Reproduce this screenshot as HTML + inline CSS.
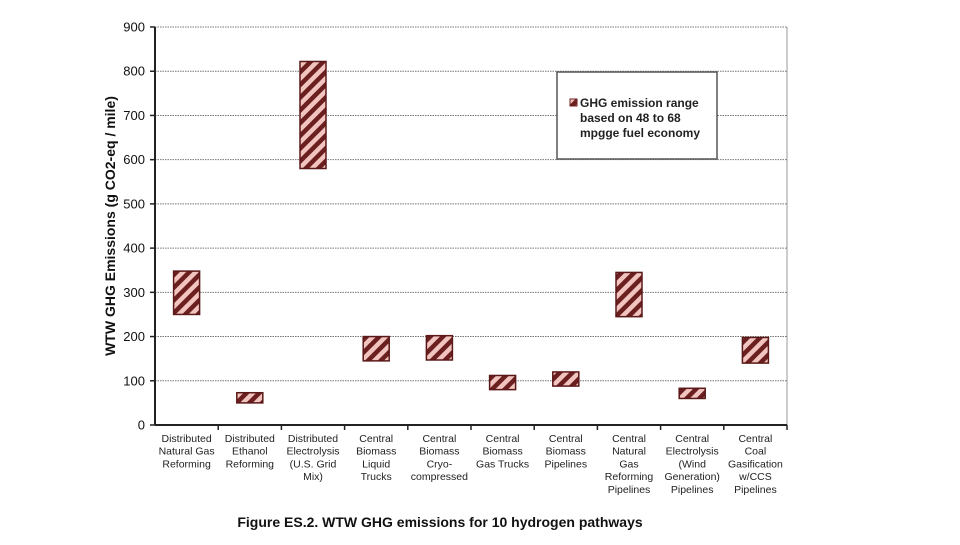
<!DOCTYPE html>
<html><head><meta charset="utf-8"><style>
body{margin:0;background:#fff;}
svg text{font-family:"Liberation Sans",Arial,sans-serif;}
</style></head><body>
<svg width="960" height="540" viewBox="0 0 960 540">
<defs>
<pattern id="hatch" patternUnits="userSpaceOnUse" width="9" height="9" patternTransform="rotate(45)">
<rect width="9" height="9" fill="#f1c4bf"/>
<rect x="0" y="0" width="4.5" height="9" fill="#6b1f1f"/>
</pattern>
</defs>
<g id="grid"></g>
<g id="bars"></g>
<g id="axes"></g>
<text x="115" y="226" transform="rotate(-90 115 226)" text-anchor="middle" font-size="14" font-weight="bold" fill="#111">WTW GHG Emissions (g CO2-eq / mile)</text>
<text x="440" y="527" text-anchor="middle" font-size="14" font-weight="bold" fill="#111">Figure ES.2. WTW GHG emissions for 10 hydrogen pathways</text>
<g>
<rect x="557" y="72" width="160" height="87" fill="#fff" stroke="#555" stroke-width="1.5"/>
<rect x="570" y="99" width="7" height="7" fill="url(#hatch)" stroke="#6b1f1f"/>
<text x="580" y="107" font-size="12" font-weight="bold" fill="#222">GHG emission range</text>
<text x="580" y="122" font-size="12" font-weight="bold" fill="#222">based on 48 to 68</text>
<text x="580" y="137" font-size="12" font-weight="bold" fill="#222">mpgge fuel economy</text>
</g>
</svg>
<script>
const categories=[["Distributed","Natural Gas","Reforming"],["Distributed","Ethanol","Reforming"],["Distributed","Electrolysis","(U.S. Grid","Mix)"],["Central","Biomass","Liquid","Trucks"],["Central","Biomass","Cryo-","compressed"],["Central","Biomass","Gas Trucks"],["Central","Biomass","Pipelines"],["Central","Natural","Gas","Reforming","Pipelines"],["Central","Electrolysis","(Wind","Generation)","Pipelines"],["Central","Coal","Gasification","w/CCS","Pipelines"]];
const lowValues=[250,50,580,145,147,80,88,245,60,140];
const highValues=[348,73,822,200,202,112,120,345,83,198];
const yTicks=[0,100,200,300,400,500,600,700,800,900];
const NS="http://www.w3.org/2000/svg";
const L=155,R=787,T=27,B=425,yMax=900;
const y=v=>B-(v/yMax)*(B-T);
const bw=(R-L)/categories.length;
const x=i=>L+bw*(i+0.5);
function mk(tag,attrs,parent){const e=document.createElementNS(NS,tag);for(const k in attrs)e.setAttribute(k,attrs[k]);parent.appendChild(e);return e;}
const grid=document.getElementById('grid'),bars=document.getElementById('bars'),axes=document.getElementById('axes');
yTicks.forEach(t=>{
 if(t>0){const g=mk('line',{x1:L,x2:R,y1:y(t),y2:y(t),stroke:'#777','stroke-dasharray':'1.5 1','stroke-width':1},grid);
 
 }
 const tk=mk('line',{x1:L-5,x2:L,y1:y(t),y2:y(t),stroke:'#222','stroke-width':1.5},axes);
 
 
 const tl=mk('text',{x:L-10,y:y(t)+4.5,'text-anchor':'end','font-size':13,fill:'#111'},axes);
 tl.textContent=t;
 
 
});
const rb=mk('line',{x1:R,x2:R,y1:T,y2:B,stroke:'#999','stroke-width':1},axes);


const ya=mk('line',{x1:L,x2:L,y1:T,y2:B,stroke:'#222','stroke-width':2},axes);


const xa=mk('line',{x1:L,x2:R,y1:B,y2:B,stroke:'#222','stroke-width':2},axes);


categories.forEach((c,i)=>{
 const tk=mk('line',{x1:L+bw*(i+1),x2:L+bw*(i+1),y1:B,y2:B+5,stroke:'#222','stroke-width':1.5},axes);
 
 
 const r=mk('rect',{x:x(i)-13,y:y(highValues[i]),width:26,height:y(lowValues[i])-y(highValues[i]),fill:'url(#hatch)',stroke:'#5a1818','stroke-width':1.5},bars);
 
 
 const t=mk('text',{'text-anchor':'middle','font-size':10.5,fill:'#222'},axes);
 
 
 c.forEach((ln,j)=>{const s=mk('tspan',{x:x(i),y:442+j*12.7},t);s.textContent=ln;});
});
</script>
</body></html>
